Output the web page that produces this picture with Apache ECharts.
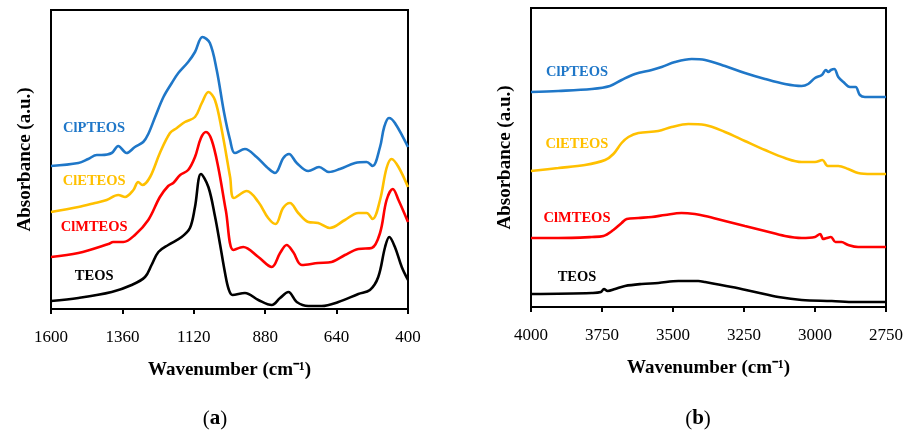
<!DOCTYPE html>
<html>
<head>
<meta charset="utf-8">
<script src="https://cdn.jsdelivr.net/npm/echarts@6/dist/echarts.min.js"></script>
<style>
html,body{margin:0;padding:0;background:#fff;}
#chart{width:910px;height:434px;}
</style>
</head>
<body>
<div id="chart"></div>
<script>
// ---- Panel (a): 1600–400 cm-1 ----
var ticksA = [400, 640, 880, 1120, 1360, 1600];
var teosA = [[1600,8],[1508,11],[1396,17],[1329,24],[1284,32],[1262,44],[1239,57],[1206,64],[1161,72],[1133,81],[1116,102],[1096,135],[1071,122],[1049,93],[1032,65],[1015,36],[1003,20],[990,14],[948,16],[903,9],[858,4],[830,11],[802,17],[774,7],[735,3],[690,3],[634,7],[567,15],[528,19],[500,32],[477,62],[463,72],[444,62],[421,42],[400,29]];
var clmteosA = [[1600,52],[1508,56],[1407,65],[1391,67],[1357,67],[1318,74],[1273,89],[1234,112],[1206,123],[1189,126],[1166,134],[1139,139],[1116,152],[1096,171],[1079,177],[1060,169],[1038,142],[1012,98],[987,59],[954,62],[903,52],[858,42],[830,56],[808,64],[786,57],[757,44],[702,46],[657,47],[612,54],[567,60],[522,61],[494,76],[472,109],[451,120],[432,109],[400,87]];
var cleteosA = [[1600,97],[1508,102],[1452,106],[1413,109],[1374,114],[1351,112],[1323,119],[1307,127],[1293,124],[1267,132],[1234,156],[1200,176],[1177,181],[1150,187],[1116,192],[1093,206],[1071,217],[1049,209],[1026,179],[998,132],[985,111],[942,118],[903,107],[870,91],[845,85],[820,101],[797,106],[769,96],[735,87],[702,86],[663,81],[612,89],[567,96],[539,96],[519,90],[494,109],[472,141],[455,150],[432,142],[400,122]];
var clpteosA = [[1600,143],[1508,146],[1475,150],[1446,154],[1430,154],[1396,156],[1374,163],[1346,156],[1318,162],[1290,167],[1273,175],[1250,192],[1222,212],[1194,226],[1172,236],[1139,247],[1116,257],[1091,272],[1066,266],[1043,239],[1018,196],[998,169],[982,156],[948,160],[909,152],[875,142],[847,136],[819,151],[800,155],[774,146],[735,138],[699,142],[666,137],[629,140],[578,146],[539,147],[519,143],[494,162],[480,182],[464,191],[444,186],[400,162]];

// ---- Panel (b): 4000–2750 cm-1 ----
var ticksB = [2750, 3000, 3250, 3500, 3750, 4000];
var teosB = [[4000,13],[3786,14],[3754,15],[3743,18],[3730,16],[3704,18],[3669,21],[3610,23],[3552,24],[3481,26],[3411,26],[3387,25],[3293,20],[3211,15],[3129,10],[3047,7],[2941,6],[2859,5],[2750,5]];
var clmteosB = [[4000,69],[3904,69],[3786,70],[3745,71],[3710,77],[3681,84],[3663,88],[3622,89],[3575,90],[3528,92],[3470,94],[3423,93],[3387,91],[3317,86],[3247,81],[3176,76],[3106,71],[3047,69],[3000,70],[2982,73],[2971,68],[2959,69],[2944,70],[2928,65],[2907,65],[2883,62],[2848,60],[2750,60]];
var cleteosB = [[4000,136],[3904,139],[3810,142],[3739,147],[3710,153],[3681,164],[3657,170],[3622,174],[3552,176],[3505,180],[3446,183],[3387,182],[3317,175],[3247,166],[3176,157],[3106,149],[3047,145],[3000,145],[2974,147],[2955,141],[2918,141],[2883,138],[2848,134],[2801,133],[2750,133]];
var clpteosB = [[4000,215],[3904,216],[3786,218],[3722,221],[3681,227],[3634,233],[3575,237],[3540,240],[3493,245],[3434,248],[3387,247],[3317,241],[3247,234],[3176,228],[3106,223],[3047,221],[3024,223],[3000,229],[2976,232],[2962,237],[2953,235],[2944,237],[2932,238],[2918,230],[2900,225],[2877,220],[2857,220],[2842,212],[2824,210],[2750,210]];

var names = ['TEOS', 'ClMTEOS', 'ClETEOS', 'ClPTEOS'];
var colors = ['#000000', '#FF0000', '#FFC000', '#1F77C8'];
// label anchor positions [wavenumber, absorbance]
var labelPosA = [[1455,33],[1455,82],[1455,128],[1455,181]];
var labelPosB = [[3838,30],[3838,89],[3838,163],[3838,235]];

var serif = '"Liberation Serif", "Times New Roman", serif';
var dataA = [teosA, clmteosA, cleteosA, clpteosA];
var dataB = [teosB, clmteosB, cleteosB, clpteosB];

function makeX(gi, mn, mx, ticks) {
  return {
    type: 'value', gridIndex: gi, inverse: true, min: mn, max: mx,
    name: 'Wavenumber (cm\u207B\u00B9)', nameLocation: 'middle', nameGap: 52,
    nameTextStyle: { fontFamily: serif, fontSize: 19, fontWeight: 'bold', color: '#000' },
    axisLine: { show: true, onZero: false, lineStyle: { color: '#000', width: 2 } },
    axisTick: { show: true, inside: false, length: 5, customValues: ticks, lineStyle: { color: '#000', width: 2 } },
    axisLabel: { customValues: ticks, margin: 20, fontFamily: serif, fontSize: 17, color: '#000',
      formatter: function (v) { return String(v); } },
    splitLine: { show: false }
  };
}
function makeY(gi) {
  return {
    type: 'value', gridIndex: gi, min: 0, max: 299,
    name: 'Absorbance (a.u.)', nameLocation: 'middle', nameGap: 16, nameRotate: 90,
    nameTextStyle: { fontFamily: serif, fontSize: 19, fontWeight: 'bold', color: '#000' },
    axisLine: { show: true, lineStyle: { color: '#000', width: 2 } },
    axisTick: { show: false }, axisLabel: { show: false }, splitLine: { show: false }
  };
}
function makeSeries(data, gi, labelPos) {
  return data.map(function (d, i) {
    return {
      type: 'line', name: names[i], xAxisIndex: gi, yAxisIndex: gi,
      data: d, showSymbol: false, smooth: 0.35, silent: true,
      lineStyle: { color: colors[i], width: 2.6 },
      markPoint: {
        symbolSize: 0, silent: true,
        data: [{ coord: labelPos[i], value: names[i] }],
        label: { show: true, position: 'inside', formatter: names[i],
          fontFamily: serif, fontSize: 14.5, fontWeight: 'bold', color: colors[i] }
      }
    };
  });
}

var chart = echarts.init(document.getElementById('chart'), null, { renderer: 'canvas' });
chart.setOption({
  animation: false,
  backgroundColor: '#fff',
  grid: [
    { left: 51, top: 10, width: 357, height: 299, show: true, borderColor: '#000', borderWidth: 2 },
    { left: 531, top: 8, width: 355, height: 299, show: true, borderColor: '#000', borderWidth: 2 }
  ],
  xAxis: [makeX(0, 400, 1600, ticksA), makeX(1, 2750, 4000, ticksB)],
  yAxis: [makeY(0), makeY(1)],
  series: makeSeries(dataA, 0, labelPosA).concat(makeSeries(dataB, 1, labelPosB)),
  graphic: [
    { type: 'text', x: 215, y: 419, style: { text: '({b|a})', fontFamily: serif, fontSize: 21, fill: '#000',
      align: 'center', verticalAlign: 'middle', rich: { b: { fontFamily: serif, fontSize: 21, fontWeight: 'bold' } } } },
    { type: 'text', x: 698, y: 419, style: { text: '({b|b})', fontFamily: serif, fontSize: 21, fill: '#000',
      align: 'center', verticalAlign: 'middle', rich: { b: { fontFamily: serif, fontSize: 21, fontWeight: 'bold' } } } }
  ]
});
</script>
</body>
</html>
